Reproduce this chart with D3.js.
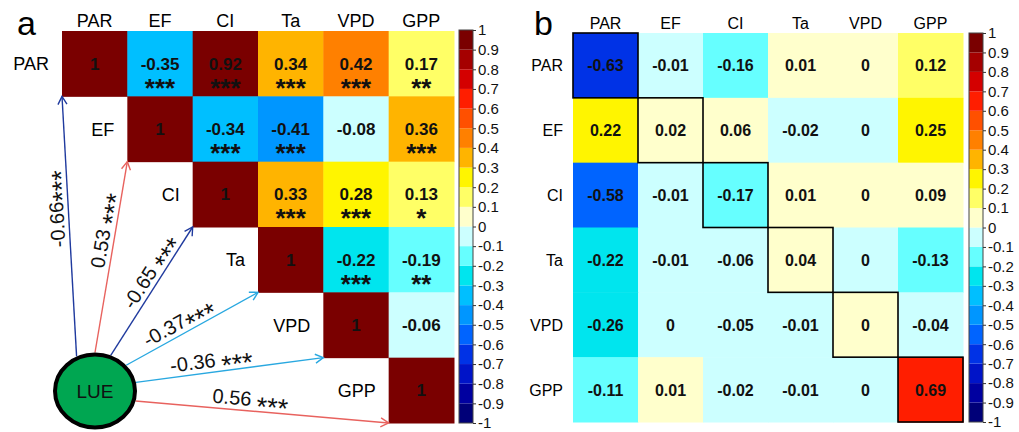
<!DOCTYPE html>
<html>
<head>
<meta charset="utf-8">
<script src="https://cdn.jsdelivr.net/npm/d3@7"></script>
<style>
  body { margin: 0; background: #fff; }
  text { font-family: Arial, "Liberation Sans", sans-serif; }
</style>
</head>
<body>
<script>
const vars = ["PAR", "EF", "CI", "Ta", "VPD", "GPP"];

// panel a: upper triangle, each row starts at the diagonal
const corrA = [
  [1, -0.35, 0.92, 0.34, 0.42, 0.17],
  [1, -0.34, -0.41, -0.08, 0.36],
  [1, 0.33, 0.28, 0.13],
  [1, -0.22, -0.19],
  [1, -0.06],
  [1]
];
const starsA = [
  ["", "***", "***", "***", "***", "**"],
  ["", "***", "***", "", "***"],
  ["", "***", "***", "*"],
  ["", "***", "**"],
  ["", ""],
  [""]
];

// LUE -> driver paths
const lueCorr = [-0.66, 0.53, -0.65, -0.37, -0.36, 0.56];
const lueStars = ["***", "***", "***", "***", "***", "***"];

// panel b, full matrix (cells printed as 0 keep the sign of their colour)
const corrB = [
  [-0.63, -0.01, -0.16, 0.01, 0.004, 0.12],
  [0.22, 0.02, 0.06, -0.02, -0.004, 0.25],
  [-0.58, -0.01, -0.17, 0.01, 0.004, 0.09],
  [-0.22, -0.01, -0.06, 0.04, -0.004, -0.13],
  [-0.26, -0.004, -0.05, -0.01, 0.004, -0.04],
  [-0.11, 0.01, -0.02, -0.01, -0.004, 0.69]
];

// 20 colour bins from -1 to 1
const binColors = [
  "#000078", "#0000a0", "#0014c8", "#0032e6", "#0064ff",
  "#0096ff", "#00bfff", "#00e5ee", "#66ffff", "#ccffff",
  "#ffffcc", "#ffff66", "#fff500", "#ffb400", "#ff8000",
  "#ff5000", "#ff1e00", "#d40000", "#a50000", "#7a0000"
];
const tickVals = d3.range(-10, 11).map(i => i / 10);

const W = 1019, H = 432;
const svg = d3.select("body").append("svg").attr("width", W).attr("height", H);

const color = d3.scaleQuantize().domain([-1, 1]).range(binColors);
const fmt = v => String(+v.toFixed(2));

// layout of the LUE arrows (start angle on the ellipse, label position along the line)
const lue = { cx: 95, cy: 391, rx: 40, ry: 36.5 };
const startAngles = [-116, -90, -68, -42, -13, 15];
const labelT = [0.57, 0.63, 0.6, 0.44, 0.41, 0.45];
const labelGap = ["", " ", " ", "", " ", " "];
const arrowColor = v => v > 0 ? "#e8625e" : (v < -0.5 ? "#1f3a9e" : "#29a8e0");

const defs = svg.append("defs");
["#e8625e", "#1f3a9e", "#29a8e0"].forEach((c, i) => {
  defs.append("marker").attr("id", "ah" + i)
    .attr("viewBox", "-10 -6 12 12").attr("refX", 0).attr("refY", 0)
    .attr("markerWidth", 12).attr("markerHeight", 12)
    .attr("markerUnits", "userSpaceOnUse").attr("orient", "auto")
    .append("path").attr("d", "M-8,-4.5L0,0L-8,4.5")
    .attr("fill", "none").attr("stroke", c).attr("stroke-width", 1.4);
});
const markerFor = c => "url(#ah" + ["#e8625e", "#1f3a9e", "#29a8e0"].indexOf(c) + ")";

function colorbar(g, x, y0, y1) {
  const y = d3.scaleLinear().domain([-1, 1]).range([y1, y0]);
  g.selectAll("rect.bin").data(binColors).join("rect").attr("class", "bin")
    .attr("x", x).attr("width", 14)
    .attr("y", (d, i) => y(-1 + (i + 1) / 10))
    .attr("height", (d, i) => y(-1 + i / 10) - y(-1 + (i + 1) / 10))
    .attr("fill", d => d);
  g.append("rect").attr("x", x).attr("y", y0).attr("width", 14).attr("height", y1 - y0)
    .attr("fill", "none").attr("stroke", "#444").attr("stroke-width", 1);
  const ax = g.append("g").attr("transform", `translate(${x + 14},0)`)
    .call(d3.axisRight(y).tickValues(tickVals).tickSize(3).tickPadding(2)
      .tickFormat(d => String(d)));
  ax.select(".domain").remove();
  ax.selectAll("text").attr("font-size", 15).attr("font-family", "Arial, 'Liberation Sans', sans-serif").attr("fill", "#111");
  ax.selectAll("line").attr("stroke", "#333");
}

// ---------- panel a ----------
const ga = svg.append("g");
const xA = d3.scaleBand().domain(vars).range([62, 454]);
const yA = d3.scaleBand().domain(vars).range([31, 423]);
const bwA = xA.bandwidth();

const cellsA = [];
corrA.forEach((row, i) => row.forEach((v, k) => {
  cellsA.push({ r: vars[i], c: vars[i + k], v, s: starsA[i][k] });
}));

ga.selectAll("rect.cell").data(cellsA).join("rect").attr("class", "cell")
  .attr("x", d => xA(d.c)).attr("y", d => yA(d.r))
  .attr("width", bwA + 0.5).attr("height", bwA + 0.5)
  .attr("fill", d => color(d.v));

ga.selectAll("text.val").data(cellsA).join("text").attr("class", "val")
  .attr("x", d => xA(d.c) + bwA / 2).attr("y", d => yA(d.r) + bwA / 2 + 6)
  .attr("text-anchor", "middle").attr("font-size", 17).attr("font-weight", "bold")
  .attr("fill", "#111").text(d => fmt(d.v));

ga.selectAll("text.star").data(cellsA.filter(d => d.s)).join("text").attr("class", "star")
  .attr("x", d => xA(d.c) + bwA / 2).attr("y", d => yA(d.r) + bwA / 2 + 33)
  .attr("text-anchor", "middle").attr("font-size", 26).attr("font-weight", "bold")
  .attr("fill", "#111").text(d => d.s);

ga.selectAll("text.colh").data(vars).join("text").attr("class", "colh")
  .attr("x", d => xA(d) + bwA / 2).attr("y", 27)
  .attr("text-anchor", "middle").attr("font-size", 18).text(d => d);

ga.selectAll("text.rowh").data(vars).join("text").attr("class", "rowh")
  .attr("x", d => xA(d) - 13).attr("y", d => yA(d) + bwA / 2 + 6.5)
  .attr("text-anchor", "end").attr("font-size", 18).text(d => d);

// arrows LUE -> diagonal cells
const arrows = lueCorr.map((v, i) => {
  const a = startAngles[i] * Math.PI / 180;
  const x1 = lue.cx + (lue.rx + 2) * Math.cos(a), y1 = lue.cy + (lue.ry + 2) * Math.sin(a);
  const x2 = xA(vars[i]), y2 = yA(vars[i]) + bwA;
  return { v, x1, y1, x2, y2, c: arrowColor(v), t: labelT[i],
    label: fmt(v) + labelGap[i], stars: lueStars[i] };
});

ga.selectAll("line.arr").data(arrows).join("line").attr("class", "arr")
  .attr("x1", d => d.x1).attr("y1", d => d.y1)
  .attr("x2", d => d.x2).attr("y2", d => d.y2)
  .attr("stroke", d => d.c).attr("stroke-width", 1.4)
  .attr("marker-end", d => markerFor(d.c));

const lab = ga.selectAll("text.arrlab").data(arrows).join("text").attr("class", "arrlab")
  .attr("transform", d => {
    const px = d.x1 + (d.x2 - d.x1) * d.t, py = d.y1 + (d.y2 - d.y1) * d.t;
    const ang = Math.atan2(d.y2 - d.y1, d.x2 - d.x1) * 180 / Math.PI;
    return `translate(${px},${py}) rotate(${ang})`;
  })
  .attr("y", -5).attr("text-anchor", "middle").attr("font-size", 20).attr("fill", "#111");
lab.append("tspan").text(d => d.label);
lab.append("tspan").attr("font-size", 27).attr("dy", 9).text(d => d.stars);

ga.append("ellipse").attr("cx", lue.cx).attr("cy", lue.cy)
  .attr("rx", lue.rx).attr("ry", lue.ry)
  .attr("fill", "#00a651").attr("stroke", "#000").attr("stroke-width", 4);
ga.append("text").attr("x", lue.cx).attr("y", lue.cy + 7)
  .attr("text-anchor", "middle").attr("font-size", 19).attr("fill", "#111").text("LUE");

ga.append("text").attr("x", 17).attr("y", 35).attr("font-size", 34).text("a");
colorbar(ga.append("g"), 459, 30, 423);

// ---------- panel b ----------
const gb = svg.append("g");
const xB = d3.scaleBand().domain(vars).range([573, 963]);
const yB = d3.scaleBand().domain(vars).range([33, 422]);
const bwX = xB.bandwidth(), bwY = yB.bandwidth();

const cellsB = [];
corrB.forEach((row, i) => row.forEach((v, k) => cellsB.push({ r: vars[i], c: vars[k], v })));

gb.selectAll("rect.cell").data(cellsB).join("rect").attr("class", "cell")
  .attr("x", d => xB(d.c)).attr("y", d => yB(d.r))
  .attr("width", bwX + 0.5).attr("height", bwY + 0.5)
  .attr("fill", d => color(d.v));

gb.selectAll("rect.diag").data(vars).join("rect").attr("class", "diag")
  .attr("x", d => xB(d)).attr("y", d => yB(d))
  .attr("width", bwX).attr("height", bwY)
  .attr("fill", "none").attr("stroke", "#000").attr("stroke-width", 1.6);

gb.selectAll("text.val").data(cellsB).join("text").attr("class", "val")
  .attr("x", d => xB(d.c) + bwX / 2).attr("y", d => yB(d.r) + bwY / 2 + 6)
  .attr("text-anchor", "middle").attr("font-size", 16).attr("font-weight", "bold")
  .attr("fill", "#111").text(d => fmt(d.v));

gb.selectAll("text.colh").data(vars).join("text").attr("class", "colh")
  .attr("x", d => xB(d) + bwX / 2).attr("y", 29)
  .attr("text-anchor", "middle").attr("font-size", 16).text(d => d);

gb.selectAll("text.rowh").data(vars).join("text").attr("class", "rowh")
  .attr("x", 563).attr("y", d => yB(d) + bwY / 2 + 6)
  .attr("text-anchor", "end").attr("font-size", 16).text(d => d);

gb.append("text").attr("x", 534).attr("y", 35).attr("font-size", 34).text("b");
colorbar(gb.append("g"), 969, 33, 422);
</script>
</body>
</html>
